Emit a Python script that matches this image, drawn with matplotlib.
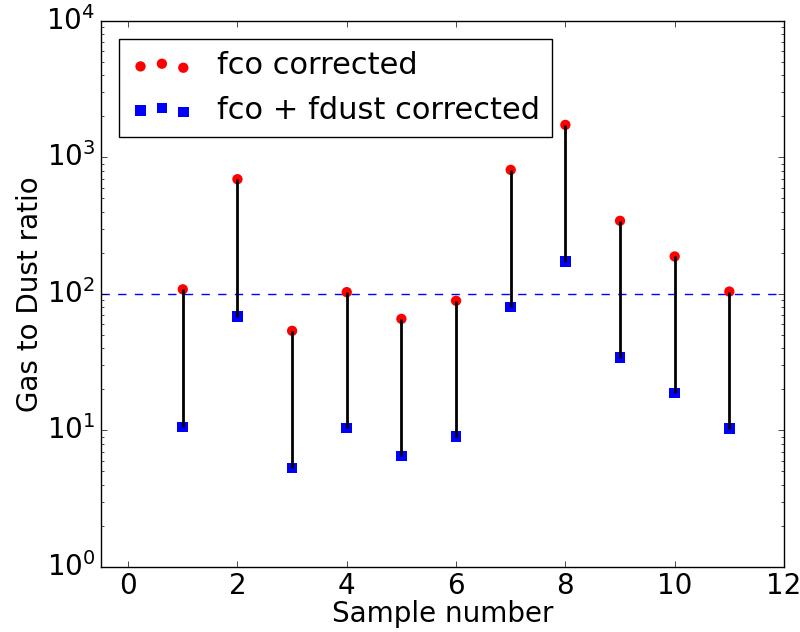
import matplotlib
matplotlib.use("Agg")
import matplotlib.pyplot as plt
import numpy as np

plt.style.use('classic')

samples = [1, 2, 3, 4, 5, 6, 7, 8, 9, 10, 11]
fco_corrected = [108, 692, 53.6, 103, 65.6, 89, 810, 1730, 343, 188, 104]
fco_fdust_corrected = [10.6, 68, 5.3, 10.4, 6.5, 9.0, 80, 172, 34, 18.8, 10.3]
reference_ratio = 100

fig = plt.figure(figsize=(8, 6.32), dpi=100)
ax = fig.add_axes([0.126, 0.103, 0.854, 0.864])

ax.scatter(samples, fco_corrected, s=55, c='red', marker='o', edgecolors='none',
           label='fco corrected', zorder=2)
ax.scatter(samples, fco_fdust_corrected, s=60, c='blue', marker='s', edgecolors='none',
           label='fco + fdust corrected', zorder=2)
ax.vlines(samples, fco_fdust_corrected, fco_corrected, colors='black', linewidth=2, zorder=3)
ax.axhline(reference_ratio, color='blue', linestyle='--', linewidth=1, zorder=1)

ax.set_yscale('log')
ax.set_ylim(1, 1e4)
ax.set_xlim(-0.5, 12)
ax.set_xticks([0, 2, 4, 6, 8, 10, 12])
ax.tick_params(labelsize=20)
ax.set_xlabel('Sample number', fontsize=20, labelpad=0)
ax.set_ylabel('Gas to Dust ratio', fontsize=20, labelpad=2)
ax.legend(loc='upper left', fontsize=22, scatterpoints=3, borderaxespad=0.6)

fig.savefig('out.png', dpi=100)
